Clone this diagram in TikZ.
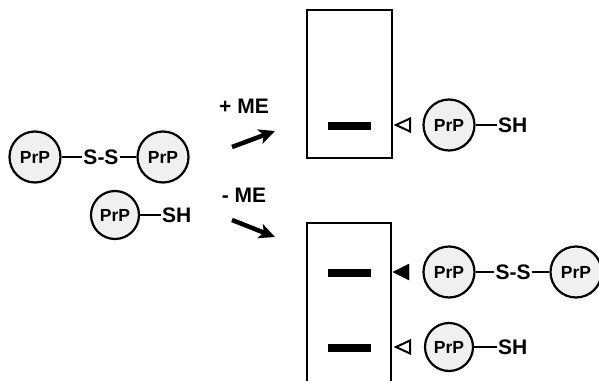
\documentclass[tikz,border=0pt]{standalone}
\usepackage{fontspec}
\setmainfont{Liberation Sans}
\usetikzlibrary{arrows.meta}
\tikzset{
  prp/.style={circle, draw, line width=2.2pt, fill=gray!12, minimum size=51pt, inner sep=0pt, font=\bfseries\fontsize{17.5}{17.5}\selectfont},
  lbl/.style={font=\bfseries\fontsize{21}{21}\selectfont, inner sep=1pt},
  mel/.style={font=\bfseries\fontsize{21}{21}\selectfont, inner sep=0pt},
  bond/.style={line width=2.2pt},
  gel/.style={line width=2.2pt},
  band/.style={fill=black, minimum width=43pt, minimum height=8pt, inner sep=0pt},
  opentri/.style={line width=2pt, line join=miter},
  filltri/.style={fill=black},
  bigarrow/.style={line width=4.5pt, -{Stealth[length=16pt,width=15pt,inset=4pt]}}
}
\begin{document}
\begin{tikzpicture}[x=1pt,y=-1pt]
\useasboundingbox (0,0) rectangle (599,380);
% left molecules
\node[prp] (a1) at (35,157) {PrP};
\node[lbl] (ss1) at (101,157) {S-S};
\node[prp] (a2) at (163,157) {PrP};
\draw[bond] (a1) -- (ss1);
\draw[bond] (ss1) -- (a2);
\node[prp, minimum size=48pt] (a3) at (115,215) {PrP};
\node[lbl, anchor=west] (sh1) at (161,215) {SH};
\draw[bond] (a3) -- (sh1);
% labels and arrows
\node[mel] (pme) at (244,106) {+ ME};
\node[mel] (mme) at (244,195) {- ME};
\coordinate (p1) at (232,147);
\coordinate (p2) at (275,131);
\coordinate (q1) at (232,220);
\coordinate (q2) at (275,237);
\draw[bigarrow] (p1) -- (p2);
\draw[bigarrow] (q1) -- (q2);
% top gel
\draw[gel] (307,10) rectangle (392,158);
\node[band] (b1) at (349.5,125.5) {};
\draw[opentri] (396,125) -- (410,118.5) -- (410,131.5) -- cycle;
\node[prp] (c1) at (449,125) {PrP};
\node[lbl, anchor=west] (sh2) at (497,125) {SH};
\draw[bond] (c1) -- (sh2);
% bottom gel
\draw[gel] (307,390) -- (307,223) -- (391,223) -- (391,390);
\node[band] (b2) at (349.5,272.5) {};
\node[band] (b3) at (349.5,347.5) {};
\draw[filltri] (393,272) -- (409,264) -- (409,280) -- cycle;
\node[prp] (d1) at (449,272) {PrP};
\node[lbl] (ss2) at (513,272) {S-S};
\node[prp] (d2) at (576,272) {PrP};
\draw[bond] (d1) -- (ss2);
\draw[bond] (ss2) -- (d2);
\draw[opentri] (396,347) -- (410,340.5) -- (410,353.5) -- cycle;
\node[prp, minimum size=48pt] (e1) at (449,347) {PrP};
\node[lbl, anchor=west] (sh3) at (497,347) {SH};
\draw[bond] (e1) -- (sh3);
\end{tikzpicture}
\end{document}
